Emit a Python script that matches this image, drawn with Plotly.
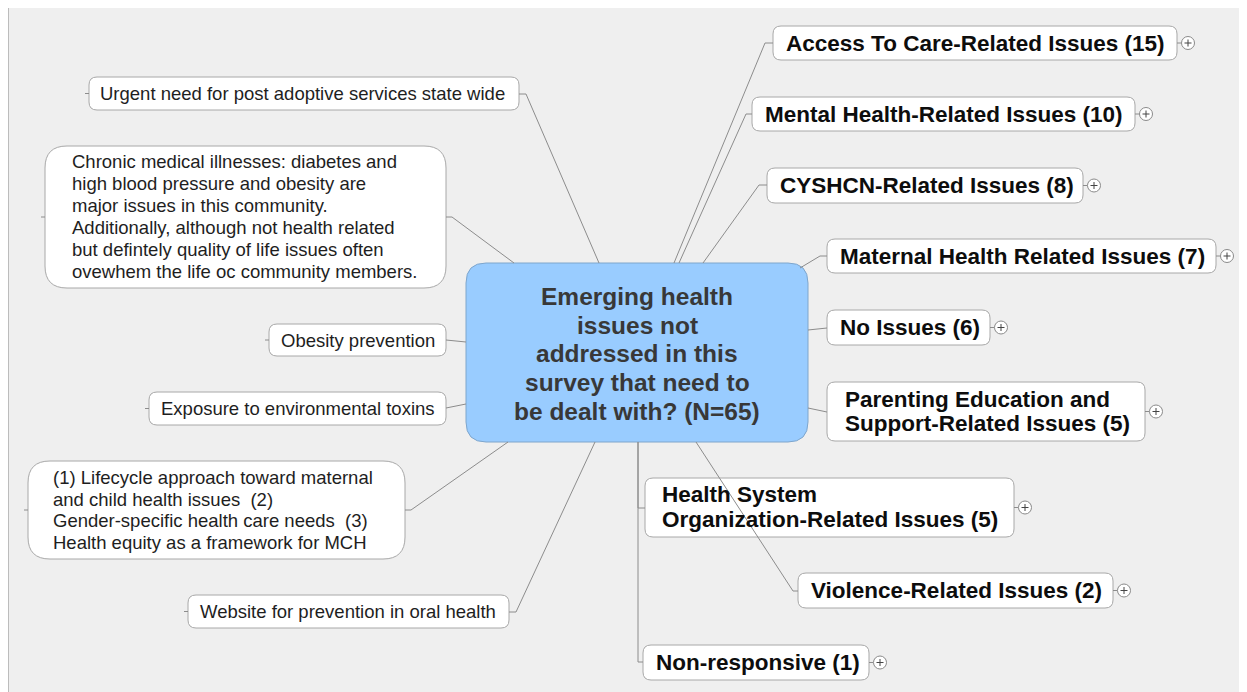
import plotly.graph_objects as go

W, H = 1247, 692
OFF = 8  # page body margin of the browser; axis ranges compensate so layout values are screen pixels

# ---------------- data (labels) ----------------
center_lines = ["Emerging health", "issues not", "addressed in this",
                "survey that need to", "be dealt with? (N=65)"]

right_labels = [
    ["Access To Care-Related Issues (15)"],
    ["Mental Health-Related Issues (10)"],
    ["CYSHCN-Related Issues (8)"],
    ["Maternal Health Related Issues (7)"],
    ["No Issues (6)"],
    ["Parenting Education and", "Support-Related Issues (5)"],
    ["Health System", "Organization-Related Issues (5)"],
    ["Violence-Related Issues (2)"],
    ["Non-responsive (1)"],
]

left_labels = [
    ["Urgent need for post adoptive services state wide"],
    ["Chronic medical illnesses: diabetes and",
     "high blood pressure and obesity are",
     "major issues in this community.",
     "Additionally, although not health related",
     "but defintely quality of life issues often",
     "ovewhem the life oc community members."],
    ["Obesity prevention"],
    ["Exposure to environmental toxins"],
    ["(1) Lifecycle approach toward maternal",
     "and child health issues  (2)",
     "Gender-specific health care needs  (3)",
     "Health equity as a framework for MCH"],
    ["Website for prevention in oral health"],
]

# ---------------- layout (positions) ----------------
center_box = (466, 263, 808, 442)
center_line_y = [296, 325, 353, 382, 411]

right_boxes = [(773, 26, 1177, 60), (752, 97, 1135, 131), (767, 168, 1083, 203),
               (827, 239, 1216, 273), (827, 310, 990, 345), (827, 382, 1145, 441),
               (645, 478, 1014, 537), (798, 573, 1113, 608), (643, 645, 869, 680)]
right_text_x = [784, 763, 778, 838, 838, 843, 660, 809, 654]
right_line_y = {5: [399, 423], 6: [494, 519]}
right_links = [
    [(674, 263), (765, 43), (773, 43)],
    [(679, 263), (746, 114), (752, 114)],
    [(703, 263), (759, 185), (767, 185)],
    [(800, 268), (820, 256), (827, 256)],
    [(808, 330), (827, 328)],
    [(808, 408), (827, 412)],
    [(638, 442), (638, 508), (645, 508)],
    [(696, 442), (793, 591), (798, 591)],
    [(638, 442), (638, 662), (643, 662)],
]

left_boxes = [(89, 77, 519, 110), (45, 146, 446, 288), (269, 324, 446, 356),
              (149, 392, 446, 425), (28, 461, 405, 559), (188, 595, 509, 628)]
left_text_x = [98, 70, 279, 159, 51, 198]
left_line_y = {1: [161, 183, 205, 227, 249, 271], 4: [477, 499, 520, 542]}
left_radius = [8, 22, 8, 8, 22, 8]
left_links = [
    [(519, 94), (526, 94), (599, 263)],
    [(446, 217), (452, 217), (514, 263)],
    [(446, 340), (466, 342)],
    [(446, 408), (466, 404)],
    [(405, 510), (411, 510), (508, 442)],
    [(509, 612), (516, 612), (595, 442)],
]

LINK = "#8c8c8c"
BORDER = "#a8a8a8"
FONT = "Liberation Sans"


def rr(x0, y0, x1, y1, r):
    return (f"M{x0+r},{y0} L{x1-r},{y0} Q{x1},{y0} {x1},{y0+r} "
            f"L{x1},{y1-r} Q{x1},{y1} {x1-r},{y1} L{x0+r},{y1} "
            f"Q{x0},{y1} {x0},{y1-r} L{x0},{y0+r} Q{x0},{y0} {x0+r},{y0} Z")


def poly(pts):
    return "M" + " L".join(f"{x},{y}" for x, y in pts)


shapes = []
annotations = []

# frame / background
shapes.append(dict(type="rect", x0=8, y0=7, x1=W + 20, y1=H + 20,
                   fillcolor="#efefef", line=dict(color="#8a8a8a", width=1)))

# boxes
cx0, cy0, cx1, cy1 = center_box
shapes.append(dict(type="path", path=rr(cx0, cy0, cx1, cy1, 20),
                   fillcolor="#99ccff", line=dict(color="#7fa6cc", width=1)))

for (x0, y0, x1, y1) in right_boxes:
    shapes.append(dict(type="path", path=rr(x0, y0, x1, y1, 8),
                       fillcolor="white", line=dict(color=BORDER, width=1)))
    cy = (y0 + y1) / 2
    pc = x1 + 11
    shapes.append(dict(type="line", x0=x1, y0=cy, x1=pc - 6.5, y1=cy,
                       line=dict(color=LINK, width=1)))
    shapes.append(dict(type="circle", x0=pc - 6.5, y0=cy - 6.5, x1=pc + 6.5, y1=cy + 6.5,
                       fillcolor="white", line=dict(color="#8a8a8a", width=1)))
    shapes.append(dict(type="line", x0=pc - 3.5, y0=cy, x1=pc + 3.5, y1=cy,
                       line=dict(color="#444", width=1)))
    shapes.append(dict(type="line", x0=pc, y0=cy - 3.5, x1=pc, y1=cy + 3.5,
                       line=dict(color="#444", width=1)))

for (x0, y0, x1, y1), r in zip(left_boxes, left_radius):
    shapes.append(dict(type="path", path=rr(x0, y0, x1, y1, r),
                       fillcolor="white", line=dict(color=BORDER, width=1)))
    cy = (y0 + y1) / 2
    shapes.append(dict(type="line", x0=x0 - 4, y0=cy, x1=x0, y1=cy,
                       line=dict(color=LINK, width=1)))

# links
for pts in right_links + left_links:
    shapes.append(dict(type="path", path=poly(pts), line=dict(color=LINK, width=1)))

# texts
ccx = (cx0 + cx1) / 2
for line, y in zip(center_lines, center_line_y):
    annotations.append(dict(x=ccx, y=y, text=f"<b>{line}</b>", showarrow=False,
                            xanchor="center", yanchor="middle",
                            font=dict(family=FONT, size=24.5, color="#383838")))

for i, labels in enumerate(right_labels):
    x0, y0, x1, y1 = right_boxes[i]
    ys = right_line_y.get(i, [(y0 + y1) / 2])
    for line, y in zip(labels, ys):
        annotations.append(dict(x=right_text_x[i], y=y, text=f"<b>{line}</b>",
                                showarrow=False, xanchor="left", yanchor="middle",
                                font=dict(family=FONT, size=22.5, color="#0d0d0d")))

for i, labels in enumerate(left_labels):
    x0, y0, x1, y1 = left_boxes[i]
    ys = left_line_y.get(i, [(y0 + y1) / 2])
    for line, y in zip(labels, ys):
        annotations.append(dict(x=left_text_x[i], y=y, text=line,
                                showarrow=False, xanchor="left", yanchor="middle",
                                font=dict(family=FONT, size=18.5, color="#1e1e1e")))

fig = go.Figure()
fig.update_layout(
    width=W, height=H,
    margin=dict(l=0, r=0, t=0, b=0),
    paper_bgcolor="white", plot_bgcolor="white",
    xaxis=dict(range=[OFF, W + OFF], visible=False, fixedrange=True),
    yaxis=dict(range=[H + OFF, OFF], visible=False, fixedrange=True),
    shapes=shapes, annotations=annotations, showlegend=False,
)
fig.write_html("out.html")
